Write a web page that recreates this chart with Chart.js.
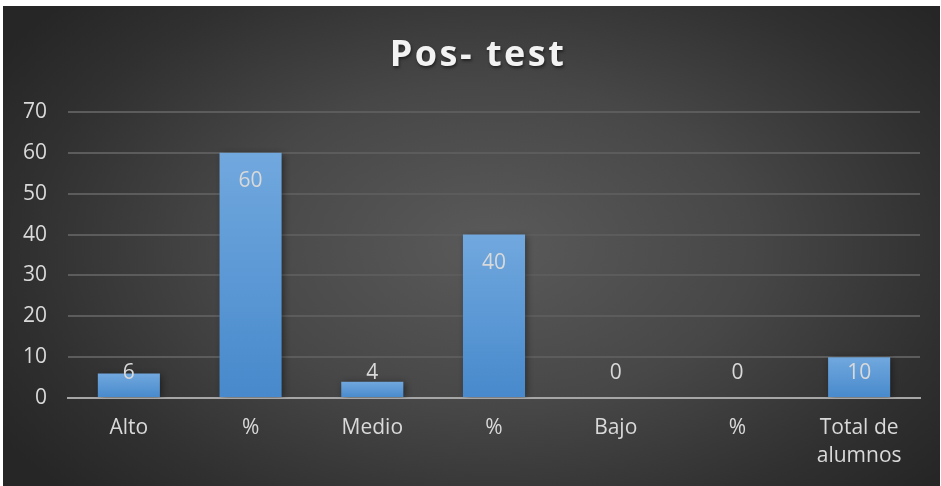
<!DOCTYPE html>
<html>
<head>
<meta charset="utf-8">
<script src="https://cdn.jsdelivr.net/npm/chart.js@4/dist/chart.umd.min.js"></script>
<style>
    html, body { margin: 0; padding: 0; background: #fff; }
    #box {
        position: absolute; left: 3px; top: 6px; width: 937px; height: 480px;
        background: radial-gradient(ellipse 62% 75% at 52% 50%, #5a5a5a 0%, #474747 45%, #303030 80%, #262626 100%);
    }
</style>
</head>
<body>
<div id="box"><canvas id="chart" width="937" height="480"></canvas></div>
<script>
const categories = ['Alto', '%', 'Medio', '%', 'Bajo', '%', ['Total de', 'alumnos']];
const values = [6, 60, 4, 40, 0, 0, 10];
const yTicks = [0, 10, 20, 30, 40, 50, 60, 70];
const chartTitle = 'Pos- test';

const FONT = "'Open Sans', sans-serif";

// title with letter spacing, like the Excel one
const titlePlugin = {
    id: 'spacedTitle',
    afterDraw(chart) {
        const ctx = chart.ctx;
        ctx.save();
        ctx.font = 'bold 36px ' + FONT;
        ctx.letterSpacing = '2.5px';
        ctx.fillStyle = '#f2f2f2';
        ctx.textAlign = 'center';
        ctx.textBaseline = 'middle';
        ctx.shadowColor = 'rgba(0,0,0,0.5)';
        ctx.shadowBlur = 3;
        ctx.shadowOffsetX = 1;
        ctx.shadowOffsetY = 2;
        ctx.fillText(chartTitle, 475, 50);
        ctx.restore();
    }
};

// soft shadow behind the bars
const shadowPlugin = {
    id: 'barShadow',
    beforeDatasetDraw(chart) {
        const ctx = chart.ctx;
        ctx.save();
        ctx.shadowColor = 'rgba(0,0,0,0.45)';
        ctx.shadowBlur = 7;
        ctx.shadowOffsetX = 2;
        ctx.shadowOffsetY = 1;
    },
    afterDatasetDraw(chart) {
        chart.ctx.restore();
    }
};

// value labels near the top of each bar
const labelPlugin = {
    id: 'valueLabels',
    afterDatasetsDraw(chart) {
        const ctx = chart.ctx;
        const base = chart.scales.y.getPixelForValue(0);
        ctx.save();
        ctx.font = '21px ' + FONT;
        ctx.fillStyle = '#d9d9d9';
        ctx.textAlign = 'center';
        ctx.textBaseline = 'middle';
        chart.getDatasetMeta(0).data.forEach((bar, i) => {
            const y = Math.min(bar.y + 28, base - 25);
            ctx.fillText(String(values[i]), bar.x, y);
        });
        ctx.restore();
    }
};

const ctx = document.getElementById('chart').getContext('2d');
new Chart(ctx, {
    type: 'bar',
    data: {
        labels: categories,
        datasets: [{
            data: values,
            backgroundColor: (c) => {
                const chart = c.chart;
                const area = chart.chartArea;
                if (!area) return '#5b9bd5';
                const y = chart.scales.y;
                const top = y.getPixelForValue(c.raw || 0);
                const bottom = y.getPixelForValue(0);
                if (bottom - top < 1) return '#5b9bd5';
                const g = chart.ctx.createLinearGradient(0, top, 0, bottom);
                g.addColorStop(0, '#71a8de');
                g.addColorStop(1, '#4789cc');
                return g;
            },
            borderWidth: 0,
            barPercentage: 0.51,
            categoryPercentage: 1.0
        }]
    },
    options: {
        responsive: false,
        animation: false,
        layout: { padding: { top: 106, right: 20, left: 0, bottom: 0 } },
        plugins: {
            legend: { display: false },
            tooltip: { enabled: false }
        },
        scales: {
            x: {
                grid: { display: false, drawTicks: false },
                border: { color: '#a6a6a6', width: 2 },
                ticks: {
                    color: '#d9d9d9',
                    font: { family: FONT, size: 21, lineHeight: 1.38 },
                    padding: 15,
                    maxRotation: 0,
                    autoSkip: false
                }
            },
            y: {
                min: 0,
                max: 70,
                afterBuildTicks: (scale) => { scale.ticks = yTicks.map(v => ({ value: v })); },
                afterFit: (scale) => { scale.width = 65; },
                grid: { color: '#5c5c5c', lineWidth: 2, drawTicks: false },
                border: { display: false },
                ticks: {
                    color: '#d9d9d9',
                    font: { family: FONT, size: 21 },
                    padding: 21
                }
            }
        }
    },
    plugins: [titlePlugin, shadowPlugin, labelPlugin]
});
</script>
</body>
</html>
